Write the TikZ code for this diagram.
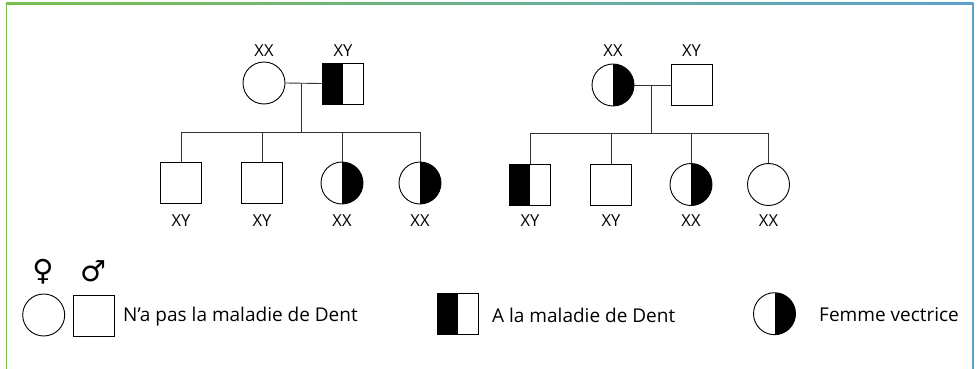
\documentclass[tikz,border=0pt]{standalone}
\usepackage{fontspec}
\setmainfont{Open Sans}
\newfontfamily\symfont{DejaVu Sans Bold}
\definecolor{framegreen}{RGB}{122,192,78}
\definecolor{frameblue}{RGB}{92,160,206}
\begin{document}
\begin{tikzpicture}[x=1pt,y=-1pt,
  indiv/.style={draw=black,line width=0.9pt,inner sep=0pt,fill=white},
  female/.style={indiv,circle,minimum size=42pt},
  male/.style={indiv,rectangle,minimum size=41pt},
  carrier/.style={path picture={\fill[black] (path picture bounding box.north) rectangle (path picture bounding box.south east);}},
  affected/.style={path picture={\fill[black] (path picture bounding box.north west) rectangle (path picture bounding box.south);}},
  geno/.style={font=\fontsize{16.5}{19}\selectfont,inner sep=0pt,anchor=base},
  link/.style={draw=black!80,line width=0.9pt},
  legtext/.style={font=\fontsize{19}{22}\selectfont,inner sep=0pt,anchor=base west},
  sym/.style={font=\symfont\fontsize{29}{32}\selectfont,inner sep=0pt}
]
\useasboundingbox (0,0) rectangle (978,369);

% frame: green on the left, blue on the right, shaded along the top
\shade[left color=framegreen,right color=frameblue] (5.8,2.6) rectangle (973.6,4.2);
\draw[framegreen,line width=1.5pt] (6.6,3) -- (6.6,369);
\draw[frameblue,line width=2pt] (972.6,3) -- (972.6,369);

% ---------- first family ----------
\node[female] (m1) at (264,83) {};
\node[male,affected] (f1) at (342.5,83.5) {};
\node[geno] (m1g) at (264,57) {XX};
\node[geno] (f1g) at (343,57) {XY};
\coordinate (u1) at (301,83);
\coordinate (s1) at (301,132);
\node[male] (c11) at (181,183) {};
\node[male] (c12) at (262,183) {};
\node[female,carrier] (c13) at (342,183) {};
\node[female,carrier] (c14) at (420,183) {};
\node[geno] (c11g) at (181,226.5) {XY};
\node[geno] (c12g) at (262,226.5) {XY};
\node[geno] (c13g) at (342,226.5) {XX};
\node[geno] (c14g) at (420,226.5) {XX};
\draw[link] (m1.east) -- (f1.west);
\draw[link] (u1) -- (s1);
\draw[link] (c11.north |- s1) -- (c14.north |- s1);
\foreach \c in {c11,c12,c13,c14} \draw[link] (\c.north |- s1) -- (\c.north);

% ---------- second family ----------
\node[female,carrier] (m2) at (613,85) {};
\node[male] (f2) at (691.5,85) {};
\node[geno] (m2g) at (613,57) {XX};
\node[geno] (f2g) at (691.5,57) {XY};
\coordinate (u2) at (651,85);
\coordinate (s2) at (651,133.5);
\node[male,affected] (c21) at (530,184.5) {};
\node[male] (c22) at (611,184.5) {};
\node[female,carrier] (c23) at (691,184.5) {};
\node[female] (c24) at (768.5,184.5) {};
\node[geno] (c21g) at (530,226.5) {XY};
\node[geno] (c22g) at (611,226.5) {XY};
\node[geno] (c23g) at (691,226.5) {XX};
\node[geno] (c24g) at (768.5,226.5) {XX};
\draw[link] (m2.east) -- (f2.west);
\draw[link] (u2) -- (s2);
\draw[link] (c21.north |- s2) -- (c24.north |- s2);
\foreach \c in {c21,c22,c23,c24} \draw[link] (\c.north |- s2) -- (\c.north);

% ---------- legend ----------
\node[sym] (fsym) at (43,272) {♀};
\node[sym] (msym) at (93,271.5) {♂};
\node[female] (lf) at (43.7,315) {};
\node[male] (lm) at (94,315.5) {};
\node[legtext] (lt1) at (123,321) {N’a pas la maladie de Dent};
\node[male,affected] (la) at (458,314) {};
\node[legtext] (lt2) at (492,322.5) {A la maladie de Dent};
\node[female,carrier] (lc) at (774.5,313.7) {};
\node[legtext] (lt3) at (819,321) {Femme vectrice};
\end{tikzpicture}
\end{document}
